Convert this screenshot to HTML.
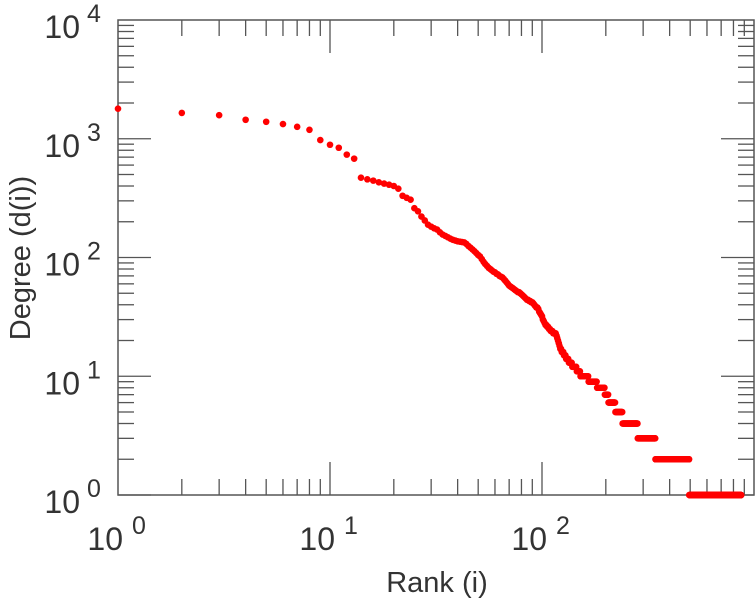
<!DOCTYPE html>
<html><head><meta charset="utf-8"><style>
html,body{margin:0;padding:0;background:#fff}
svg{display:block;font-family:"Liberation Sans",sans-serif}
</style></head><body>
<svg id="chart" width="756" height="600" xmlns="http://www.w3.org/2000/svg">
<g id="ticks"></g>
<rect x="118" y="20" width="636" height="475" fill="none" stroke="#555" stroke-width="1.5"/>
<g id="ylabels"></g>
<g id="xlabels"></g>
<g id="points"></g>
<text x="437" y="592" font-size="29" fill="#333" text-anchor="middle">Rank (i)</text>
<text transform="translate(30,258) rotate(-90)" font-size="29" fill="#333" text-anchor="middle">Degree (d(i))</text>
</svg>
<script>
// head: degrees for ranks 1..100
const headDegrees = [1790,1650,1580,1445,1390,1330,1260,1190,975,890,840,735,680,
470,455,444,430,419,410,400,380,331,318,307,260,245,221,205,189,182,176,172,163,156,152,148,144,141,139,137,136,135,134,130,125,121,117,113,109,105,102,97,92,88,85,82,80,78,76,75,73,72,70,69,68,66,64,62,60,58,57,56,55,54,53,52,51,51,50,49,48,47,46,45,44,44,43,43,42,42,41,40,39,38,38,37,35,34,33,32];
// tail: run-length (degree, count of ranks)
const tailDegrees = [30,29,28,27,26,25,24,23,22,21,20,19,18,17,16,15,14,13,12,11,10,9,8,7,6,5,4,3,2,1];
const tailCounts  = [1,1,1,2,2,2,3,4,1,1,1,1,1,2,3,3,4,5,7,6,14,16,16,8,16,18,43,60,152,376];
const xDecades = [0,1,2];
const yDecades = [0,1,2,3,4];

const L=118,R=754,T=20,B=495;
const xs=v=>L+(Math.log10(v)-0)/3*(R-L);
const ys=v=>B-(Math.log10(v)-0)/4*(B-T);
const NS="http://www.w3.org/2000/svg";
function mk(tag,attrs,parent){const e=document.createElementNS(NS,tag);for(const k in attrs)e.setAttribute(k,attrs[k]);parent.appendChild(e);return e;}

const tg=document.getElementById('ticks');
// x ticks
for(let d=0;d<3;d++){for(let m=1;m<10;m++){const v=Math.pow(10,d)*m;const x=xs(v);const len=m===1?33:16;
 if(m===1&&d===0)continue;
 const t1=mk('line',{x1:x,y1:B,x2:x,y2:B-len,stroke:'#555','stroke-width':1.3},tg);
 
 
 const t2=mk('line',{x1:x,y1:T,x2:x,y2:T+len,stroke:'#555','stroke-width':1.3},tg);
 
 }}
// y ticks
for(let d=0;d<4;d++){for(let m=1;m<10;m++){const v=Math.pow(10,d)*m;const y=ys(v);const len=m===1?33:16;
 const t1=mk('line',{x1:L,y1:y,x2:L+len,y2:y,stroke:'#555','stroke-width':1.3},tg);
 
 
 const t2=mk('line',{x1:R,y1:y,x2:R-len,y2:y,stroke:'#555','stroke-width':1.3},tg);
 
 }}

const yl=document.getElementById('ylabels');
yDecades.forEach(d=>{const y=ys(Math.pow(10,d));
 const t=mk('text',{x:80,y:y+18,'font-size':32,fill:'#333','text-anchor':'end'},yl);t.textContent='10';
 
 
 const e=mk('text',{x:87,y:y+2,'font-size':25,fill:'#333'},yl);e.textContent=String(d);
 
 });
const xl=document.getElementById('xlabels');
xDecades.forEach(d=>{const x=xs(Math.pow(10,d));
 const t=mk('text',{x:x+5,y:550,'font-size':32,fill:'#333','text-anchor':'end'},xl);t.textContent='10';
 
 
 const e=mk('text',{x:x+14,y:534,'font-size':25,fill:'#333'},xl);e.textContent=String(d);
 
 });

const pg=document.getElementById('points');
let rank=1;
headDegrees.forEach(v=>{const c=mk('circle',{cx:xs(rank),cy:ys(v),r:3.3,fill:'#ff0000'},pg);
 
 
 rank++;});
tailDegrees.forEach((v,i)=>{for(let k=0;k<tailCounts[i];k++){const c=mk('circle',{cx:xs(rank),cy:ys(v),r:3.3,fill:'#ff0000'},pg);
 
 
 rank++;}});
</script>
</body></html>
